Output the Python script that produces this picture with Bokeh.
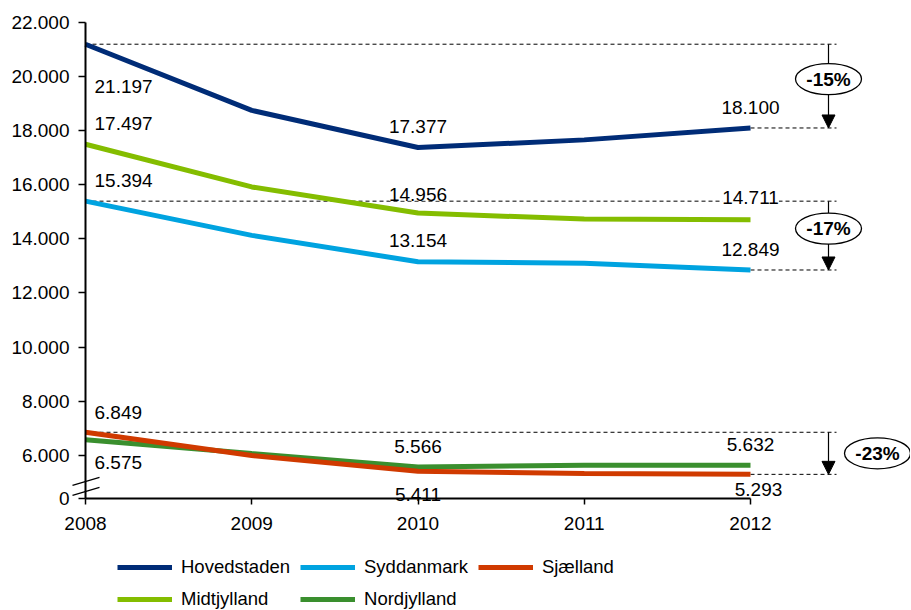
from bokeh.plotting import figure
from bokeh.models import FixedTicker, Legend, LegendItem, Arrow, NormalHead, Range1d
from bokeh.core.properties import value
from bokeh.embed import file_html
from bokeh.resources import INLINE

# ---------------- data ----------------
years = [2008, 2009, 2010, 2011, 2012]
hovedstaden = [21197, 18750, 17377, 17660, 18100]
syddanmark = [15394, 14130, 13154, 13100, 12849]
sjaelland = [6849, 5990, 5411, 5320, 5293]
midtjylland = [17497, 15920, 14956, 14730, 14711]
nordjylland = [6575, 6060, 5566, 5630, 5632]

names = ["Hovedstaden", "Syddanmark", "Sjælland", "Midtjylland", "Nordjylland"]
series = {"Hovedstaden": hovedstaden, "Syddanmark": syddanmark, "Sjælland": sjaelland,
          "Midtjylland": midtjylland, "Nordjylland": nordjylland}
colors = {"Hovedstaden": "#002C77", "Syddanmark": "#00A3E0", "Sjælland": "#D03A00",
          "Midtjylland": "#84BD00", "Nordjylland": "#3A8F2E"}
draw_order = ["Hovedstaden", "Midtjylland", "Syddanmark", "Nordjylland", "Sjælland"]

y_ticks = [4400, 6000, 8000, 10000, 12000, 14000, 16000, 18000, 20000, 22000]
y_tick_labels = ["0", "6.000", "8.000", "10.000", "12.000", "14.000", "16.000",
                 "18.000", "20.000", "22.000"]
x_tick_labels = ["2008", "2009", "2010", "2011", "2012"]

change_series = ["Hovedstaden", "Syddanmark", "Sjælland"]

# value labels: (series, year index, dx px, dy px, align)
value_labels = [
    ("Hovedstaden", 0, 9, 42, "left"), ("Hovedstaden", 2, 0, -21, "center"),
    ("Hovedstaden", 4, 0, -20, "center"),
    ("Midtjylland", 0, 9, -21, "left"), ("Midtjylland", 2, 0, -19, "center"),
    ("Midtjylland", 4, 0, -22, "center"),
    ("Syddanmark", 0, 9, -21, "left"), ("Syddanmark", 2, 0, -21, "center"),
    ("Syddanmark", 4, 0, -20, "center"),
    ("Sjælland", 0, 9, -20, "left"), ("Sjælland", 2, 0, 23, "center"),
    ("Sjælland", 4, 8, 15, "center"),
    ("Nordjylland", 0, 9, 23, "left"), ("Nordjylland", 2, 0, -20, "center"),
    ("Nordjylland", 4, 0, -21, "center"),
]

# ---------------- layout ----------------
W, H = 910, 610                 # whole canvas is the frame; axes are fixed inside it
AXIS_LEFT_PX, AXIS_TOP_PX, AXIS_BOTTOM_PX = 85, 22, 498
PX_PER_YEAR = 166.25
PX_PER_UNIT = (AXIS_BOTTOM_PX - AXIS_TOP_PX) / (y_ticks[-1] - y_ticks[0])
X0 = years[0] - AXIS_LEFT_PX / PX_PER_YEAR
X1 = X0 + W / PX_PER_YEAR
Y1 = y_ticks[-1] + AXIS_TOP_PX / PX_PER_UNIT
Y0 = Y1 - H / PX_PER_UNIT
FONT = "Liberation Sans"

p = figure(frame_width=W, frame_height=H,
           x_range=Range1d(X0, X1), y_range=Range1d(Y0, Y1),
           output_backend="svg", toolbar_location=None,
           min_border_left=0, min_border_right=0, min_border_top=0, min_border_bottom=0,
           outline_line_color=None, background_fill_color="white", border_fill_color="white")
p.xgrid.visible = False
p.ygrid.visible = False

# axes
p.xaxis.fixed_location = y_ticks[0]
p.yaxis.fixed_location = years[0]
p.xaxis.ticker = FixedTicker(ticks=years)
p.xaxis.major_label_overrides = {y: l for y, l in zip(years, x_tick_labels)}
p.xaxis.bounds = (years[0], years[-1])
p.yaxis.ticker = FixedTicker(ticks=y_ticks)
p.yaxis.major_label_overrides = {t: l for t, l in zip(y_ticks, y_tick_labels)}
p.yaxis.bounds = (y_ticks[0], y_ticks[-1])
for ax in (p.xaxis, p.yaxis):
    ax.axis_line_width = 2
    ax.axis_line_color = "black"
    ax.major_tick_line_color = "black"
    ax.major_tick_line_width = 1.5
    ax.major_tick_in = 0
    ax.minor_tick_line_color = None
    ax.major_label_text_font = FONT
    ax.major_label_text_font_size = "19px"
    ax.major_label_text_color = "black"
p.xaxis.major_tick_out = 6
p.xaxis.major_label_standoff = 12
p.yaxis.major_tick_out = 7
p.yaxis.major_label_standoff = 9

# dashed reference lines and arrows
arrow_x = years[-1] + 78 / PX_PER_YEAR
dash_end = years[-1] + 86 / PX_PER_YEAR
badge_dx_px = [0, 0, 49]
badge_dy_px = [7, 7, 0]
for i, n in enumerate(change_series):
    v = series[n]
    first, last = v[0], v[-1]
    p.segment(x0=[years[0], years[-1]], y0=[first, last], x1=[dash_end, dash_end], y1=[first, last],
              line_color="black", line_width=1, line_dash="4 3")
    arr = Arrow(x_start=arrow_x, y_start=first, x_end=arrow_x, y_end=last,
                line_color="black", line_width=1.2, level="underlay",
                end=NormalHead(size=13, fill_color="black", line_color="black", line_width=1))
    p.add_layout(arr)

# data lines
renderers = {}
for n in draw_order:
    renderers[n] = p.line(years, series[n], line_color=colors[n], line_width=5)

# badges
for i, n in enumerate(change_series):
    v = series[n]
    first, last = v[0], v[-1]
    bx = arrow_x + badge_dx_px[i] / PX_PER_YEAR
    by = (first + last) / 2 + badge_dy_px[i] / PX_PER_UNIT
    p.ellipse(x=[bx], y=[by], width=66, height=31, width_units="screen", height_units="screen",
              fill_color="white", line_color="black", line_width=1.3)
    pct = round((last / first - 1) * 100)
    p.text(x=[bx], y=[by], text=[f"{pct}%"], text_align="center", text_baseline="middle",
           text_font=value(FONT), text_font_size="19px", text_font_style="bold", text_color="black")

# value labels
for n, idx, dx, dy, align in value_labels:
    v = series[n][idx]
    txt = f"{v:,}".replace(",", ".")
    p.text(x=[years[idx]], y=[v], text=[txt], x_offset=dx, y_offset=dy,
           text_align=align, text_baseline="middle", text_font=value(FONT),
           text_font_size="19px", text_color="black", background_fill_color="white")

# axis break marks
for cy_px in (17, 7):
    yc = y_ticks[0] + cy_px / PX_PER_UNIT
    brk = Arrow(x_start=years[0] - 13 / PX_PER_YEAR, y_start=yc - 13 * 8 / 27 / PX_PER_UNIT,
                x_end=years[0] + 14 / PX_PER_YEAR, y_end=yc + 14 * 8 / 27 / PX_PER_UNIT,
                start=None, end=None, line_color="black", line_width=1.3, level="overlay")
    p.add_layout(brk)

# legend, placed in the lower strip of the canvas
legend = Legend(items=[LegendItem(label=n, renderers=[renderers[n]]) for n in names],
                ncols=3, orientation="horizontal", location=(117, 0),
                border_line_color=None, background_fill_alpha=0,
                glyph_width=55, glyph_height=18, label_standoff=9, spacing=10,
                padding=0, margin=0, label_height=18,
                label_text_font=FONT, label_text_font_size="18.5px", label_text_color="black")
p.add_layout(legend, "center")

open("out.html", "w").write(file_html(p, INLINE))
